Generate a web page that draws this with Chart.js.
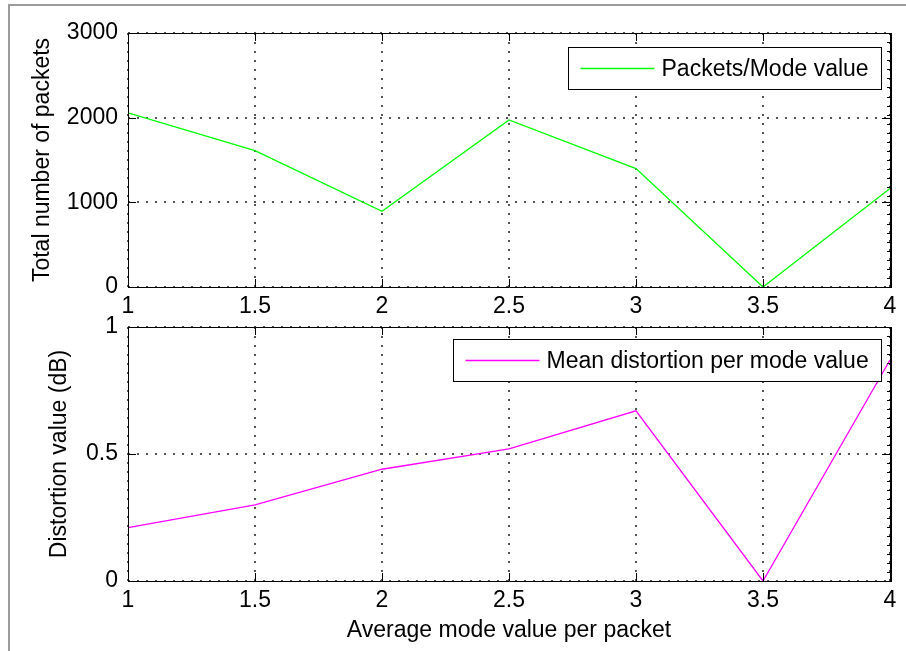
<!DOCTYPE html>
<html>
<head>
<meta charset="utf-8">
<script src="https://cdn.jsdelivr.net/npm/chart.js@4.4.1/dist/chart.umd.min.js"></script>
<style>
  html, body { margin: 0; padding: 0; background: #fff; }
  #wrap { position: relative; width: 906px; height: 651px; overflow: hidden; background: #fff; }
  #frame { position: absolute; left: 8px; top: 4px; width: 920px; height: 670px;
           border-left: 2px solid #9a9a9a; border-top: 2px solid #9a9a9a; }
  #topChart { position: absolute; left: 0; top: 0; }
  #bottomChart { position: absolute; left: 0; top: 300px; }
</style>
</head>
<body>
<div id="wrap">
  <div id="frame"></div>
  <canvas id="topChart" width="906" height="325"></canvas>
  <canvas id="bottomChart" width="906" height="351"></canvas>
</div>
<script>
// mode values on the x axis (shared by both plots)
const modeValues = [1, 1.5, 2, 2.5, 3, 3.5, 4];
// upper plot: total packets per mode value
const packetCounts = [2058, 1611, 895, 1973, 1398, 0, 1164];
// lower plot: mean distortion (dB) per mode value
const meanDistortion = [0.21, 0.30, 0.44, 0.52, 0.67, 0, 0.87];

const xTickValues = [1, 1.5, 2, 2.5, 3, 3.5, 4];
const packetTicks = [0, 1000, 2000, 3000];
const distortionTicks = [0, 0.5, 1];

const FONT_FAMILY = "'Liberation Sans', Arial, sans-serif";
const font = { family: FONT_FAMILY, size: 23 };

// box + inward ticks like a matlab axes
const axesFrame = {
  id: 'axesFrame',
  afterDraw(chart) {
    const { ctx, chartArea: a } = chart;
    const xs = chart.scales.x, ys = chart.scales.y;
    ctx.save();
    ctx.strokeStyle = '#000';
    ctx.lineWidth = 1;
    ctx.beginPath();
    ctx.rect(Math.round(a.left) + 0.5, Math.round(a.top) + 0.5,
             Math.round(a.right - a.left), Math.round(a.bottom - a.top));
    ctx.stroke();
    ctx.beginPath();
    xs.ticks.forEach(t => {
      const px = Math.round(xs.getPixelForValue(t.value)) + 0.5;
      ctx.moveTo(px, a.top); ctx.lineTo(px, a.top + 8);
      ctx.moveTo(px, a.bottom); ctx.lineTo(px, a.bottom - 8);
    });
    ys.ticks.forEach(t => {
      const py = Math.round(ys.getPixelForValue(t.value)) + 0.5;
      ctx.moveTo(a.left, py); ctx.lineTo(a.left + 8, py);
      ctx.moveTo(a.right, py); ctx.lineTo(a.right - 8, py);
    });
    ctx.stroke();
    // the right edge is heavier and carries small ticks
    ctx.lineWidth = 2;
    ctx.beginPath();
    ctx.moveTo(Math.round(a.right) + 1, a.top);
    ctx.lineTo(Math.round(a.right) + 1, a.bottom + 1);
    ctx.stroke();
    ctx.lineWidth = 1;
    ctx.beginPath();
    const n = 28;
    for (let i = 1; i < n; i++) {
      const py = Math.round(a.top + (a.bottom - a.top) * i / n) + 0.5;
      ctx.moveTo(a.right, py); ctx.lineTo(a.right - 3, py);
    }
    ctx.stroke();
    ctx.restore();
  }
};

// boxed legend in the upper right corner of the axes
const boxLegend = {
  id: 'boxLegend',
  afterDraw(chart, args, opts) {
    const { ctx, chartArea: a } = chart;
    const ds = chart.data.datasets[0];
    ctx.save();
    ctx.font = '23px ' + FONT_FAMILY;
    const tw = ctx.measureText(ds.label).width;
    const w = Math.round(106 + tw), h = 42;
    const x0 = Math.round(a.right - 9 - w) + 0.5;
    const y0 = Math.round(a.top + opts.offsetTop) + 0.5;
    ctx.fillStyle = '#fff';
    ctx.fillRect(x0, y0, w, h);
    ctx.strokeStyle = '#000';
    ctx.lineWidth = 1;
    ctx.strokeRect(x0, y0, w, h);
    ctx.strokeStyle = ds.borderColor;
    ctx.lineWidth = 1.5;
    ctx.beginPath();
    ctx.moveTo(x0 + 12, y0 + h / 2);
    ctx.lineTo(x0 + 86, y0 + h / 2);
    ctx.stroke();
    ctx.fillStyle = '#000';
    ctx.textBaseline = 'middle';
    ctx.fillText(ds.label, x0 + 93, y0 + h / 2 + 1);
    ctx.restore();
  }
};

function buildPlot(id, cfg) {
  return new Chart(document.getElementById(id), {
    type: 'line',
    data: {
      datasets: [{
        label: cfg.label,
        data: modeValues.map((x, i) => ({ x: x, y: cfg.values[i] })),
        borderColor: cfg.color,
        borderWidth: 1.3,
        pointRadius: 0,
        tension: 0,
        fill: false
      }]
    },
    options: {
      responsive: false,
      animation: false,
      devicePixelRatio: 1,
      layout: { padding: { left: 0, top: cfg.padTop, right: 16, bottom: 0 } },
      plugins: {
        legend: { display: false },
        tooltip: { enabled: false },
        boxLegend: { offsetTop: cfg.legendTop }
      },
      scales: {
        x: {
          type: 'linear', min: 1, max: 4,
          afterBuildTicks: s => { s.ticks = xTickValues.map(v => ({ value: v })); },
          afterFit: s => { s.height = cfg.xHeight; },
          ticks: { font: font, color: '#000', padding: 6, maxRotation: 0, autoSkip: false,
                   callback: v => String(v) },
          grid: { color: '#555', lineWidth: 2, drawTicks: false },
          border: { display: false, dash: [2, 7] },
          title: cfg.xTitle
            ? { display: true, text: cfg.xTitle, font: font, color: '#000', padding: { top: 0, bottom: 7 } }
            : { display: false }
        },
        y: {
          type: 'linear', min: cfg.yTicks[0], max: cfg.yTicks[cfg.yTicks.length - 1],
          afterBuildTicks: s => { s.ticks = cfg.yTicks.map(v => ({ value: v })); },
          afterFit: s => { s.width = 128; },
          ticks: { font: font, color: '#000', padding: 10, callback: v => String(v) },
          grid: { color: '#555', lineWidth: 2, drawTicks: false },
          border: { display: false, dash: [2, 7] },
          title: { display: true, text: cfg.yTitle, font: font, color: '#000',
                   padding: { top: cfg.yTitlePad, bottom: 0 } }
        }
      }
    },
    plugins: [axesFrame, boxLegend]
  });
}

buildPlot('topChart', {
  label: 'Packets/Mode value',
  values: packetCounts,
  color: '#00ff00',
  yTicks: packetTicks,
  yTitle: 'Total number of packets',
  yTitlePad: 29,
  padTop: 33,
  xHeight: 38,
  legendTop: 14
});

buildPlot('bottomChart', {
  label: 'Mean distortion per mode value',
  values: meanDistortion,
  color: '#ff00ff',
  yTicks: distortionTicks,
  yTitle: 'Distortion value (dB)',
  yTitlePad: 46,
  xTitle: 'Average mode value per packet',
  padTop: 27,
  xHeight: 70,
  legendTop: 12
});
</script>
</body>
</html>
